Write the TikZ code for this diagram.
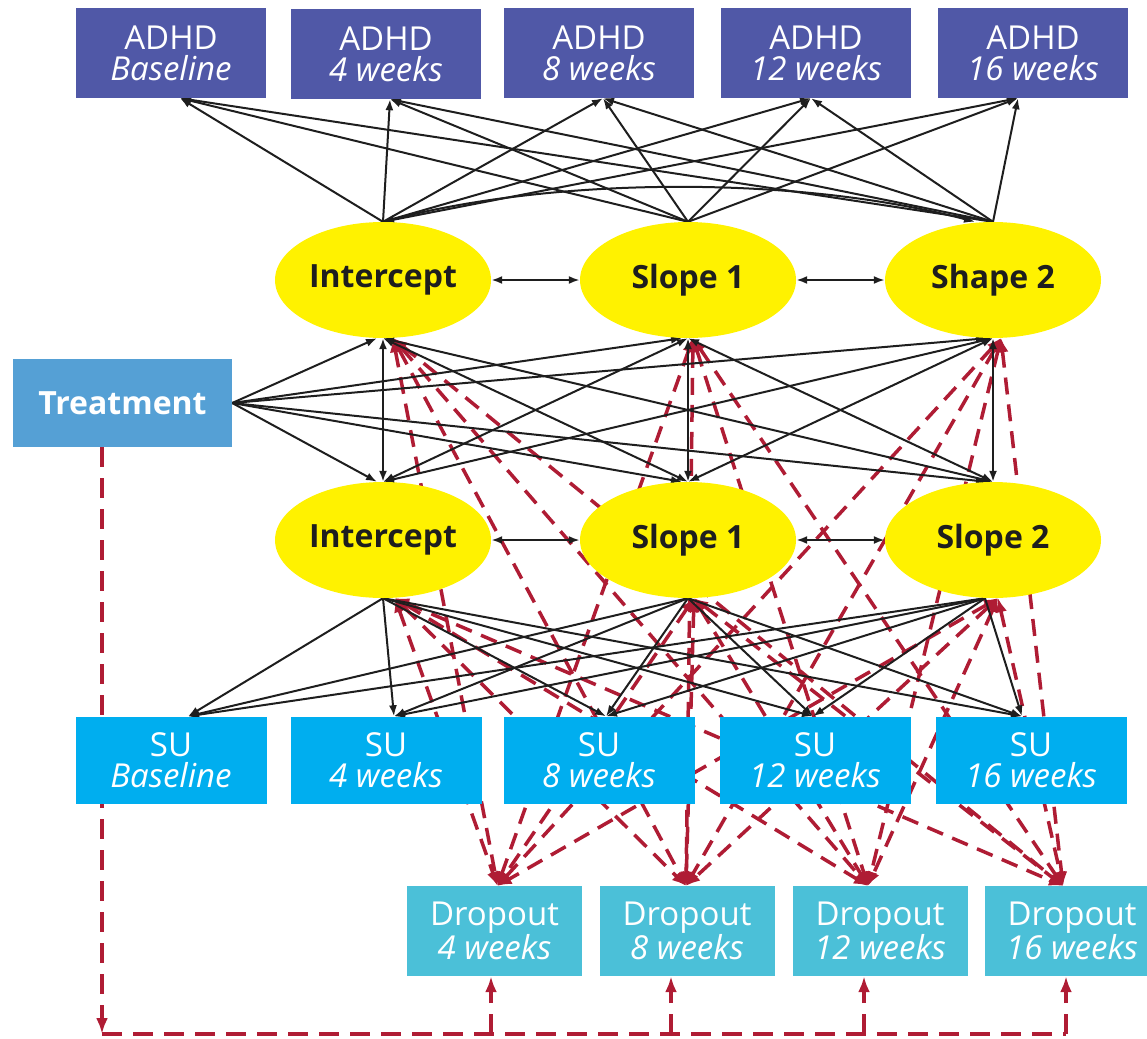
\documentclass[tikz,border=0pt]{standalone}
\usepackage{fontspec}
\setmainfont{Open Sans}
\usetikzlibrary{arrows.meta,backgrounds,shapes.geometric}
\definecolor{adhdc}{RGB}{80,88,167}
\definecolor{treatc}{RGB}{85,160,213}
\definecolor{suc}{RGB}{0,174,239}
\definecolor{dropc}{RGB}{75,192,216}
\definecolor{yelc}{RGB}{255,242,0}
\definecolor{dredc}{RGB}{175,28,52}
\definecolor{inkc}{RGB}{30,30,30}
\begin{document}
\begin{tikzpicture}[x=1pt,y=-1pt,
  boxbase/.style={rectangle, inner sep=0pt, text=white, align=center,
    font=\fontsize{33}{31}\selectfont},
  adhdbox/.style={boxbase, fill=adhdc, minimum width=190pt, minimum height=90pt},
  subox/.style={boxbase, fill=suc, minimum width=191pt, minimum height=87pt},
  dropbox/.style={boxbase, fill=dropc, minimum width=175pt, minimum height=90pt},
  treatbox/.style={boxbase, fill=treatc, minimum width=219pt, minimum height=88pt,
    font=\fontsize{32}{30}\selectfont\bfseries},
  factor/.style={ellipse, fill=yelc, inner sep=0pt, minimum width=216pt,
    minimum height=116pt, text=inkc, font=\fontsize{32}{30}\selectfont\bfseries},
  blk/.style={draw=inkc, line width=2pt, -{Latex[length=11pt,width=8pt]}},
  blkd/.style={draw=inkc, line width=2pt,
    {Latex[length=11pt,width=8pt]}-{Latex[length=11pt,width=8pt]}},
  dropl/.style={draw=dredc, line width=3.5pt, dash pattern=on 17pt off 10pt,
    {Latex[length=14pt,width=12pt]}-{Latex[length=14pt,width=12pt]}},
  treatl/.style={draw=dredc, line width=4pt, dash pattern=on 20pt off 11pt},
  treata/.style={treatl, -{Latex[length=16pt,width=12pt]}}
]
\useasboundingbox (0,0) rectangle (1147,1038);

% ADHD boxes
\node[adhdbox] (A0) at (171,53) {ADHD\\\textit{Baseline}};
\node[adhdbox] (A1) at (386,54) {ADHD\\\textit{4 weeks}};
\node[adhdbox] (A2) at (599,53) {ADHD\\\textit{8 weeks}};
\node[adhdbox] (A3) at (816,53) {ADHD\\\textit{12 weeks}};
\node[adhdbox] (A4) at (1033,53) {ADHD\\\textit{16 weeks}};

% growth factors
\node[factor] (I1) at (383,280) {Intercept};
\node[factor] (S1) at (688,280) {Slope 1};
\node[factor] (Q1) at (993,280) {Shape 2};
\node[factor] (I2) at (383,540) {Intercept};
\node[factor] (S2) at (688,540) {Slope 1};
\node[factor] (Q2) at (993,540) {Slope 2};

% treatment
\node[treatbox] (T) at (122.5,403) {Treatment};

% SU boxes
\node[subox] (U0) at (171,760) {SU\\\textit{Baseline}};
\node[subox] (U1) at (386,760) {SU\\\textit{4 weeks}};
\node[subox] (U2) at (599,760) {SU\\\textit{8 weeks}};
\node[subox] (U3) at (815,760) {SU\\\textit{12 weeks}};
\node[subox] (U4) at (1031,760) {SU\\\textit{16 weeks}};

% dropout boxes
\node[dropbox] (D4) at (494.5,931) {Dropout\\\textit{4 weeks}};
\node[dropbox] (D8) at (687,931) {Dropout\\\textit{8 weeks}};
\node[dropbox] (D12) at (880,931) {Dropout\\\textit{12 weeks}};
\node[dropbox] (D16) at (1072,931) {Dropout\\\textit{16 weeks}};

\coordinate (c0) at (102,1034);
\coordinate (c4) at (1066,1034);

\begin{scope}[on background layer]
  % dropout relations
  \foreach \s/\dx in {I1/10,S1/5,Q1/8,I2/12,S2/6,Q2/5}
    \foreach \t/\tx in {D4/3,D8/-1,D12/-12,D16/-9}
      \draw[dropl] ([xshift=\dx pt]\s.south) -- ([xshift=\tx pt]\t.north);
  % treatment to dropout
  \draw[treata] ([xshift=-20.5pt]T.south) -- (c0);
  \draw[treatl] (c0) -- (c4);
  \foreach \t/\tx in {D4/-3.5,D8/-16,D12/-16,D16/-6}
    \draw[treata] (\t.south |- c0) ++(\tx,0) -- ([xshift=\tx pt]\t.south);

  % ADHD measurement
  \foreach \s in {I1,S1,Q1}
    \foreach \t/\tx in {A0/9,A1/4,A2/4,A3/-5,A4/-15}
      \draw[blk] (\s.north) -- ([xshift=\tx pt]\t.south);
  \draw[blkd] (I1.north) .. controls (560,176) and (800,176) .. ([xshift=-18pt]Q1.north);
  % within-row covariances
  \draw[blkd] (I1.east) -- (S1.west);
  \draw[blkd] (S1.east) -- (Q1.west);
  \draw[blkd] (I2.east) -- (S2.west);
  \draw[blkd] (S2.east) -- (Q2.west);
  % treatment effects
  \foreach \t in {I1,S1,Q1}
    \draw[blk] (T.east) -- ([xshift=-6pt]\t.south);
  \foreach \t in {I2,S2,Q2}
    \draw[blk] (T.east) -- ([xshift=-6pt]\t.north);
  % between processes
  \foreach \s in {I1,S1,Q1}
    \foreach \t in {I2,S2,Q2}
      \draw[blkd] (\s.south) -- (\t.north);
  % SU measurement
  \foreach \s/\dx in {I2/0,S2/0,Q2/-8}
    \foreach \t/\tx in {U0/17,U1/8,U2/7,U3/-2,U4/-9}
      \draw[blk] ([xshift=\dx pt]\s.south) -- ([xshift=\tx pt]\t.north);
\end{scope}
\end{tikzpicture}
\end{document}
